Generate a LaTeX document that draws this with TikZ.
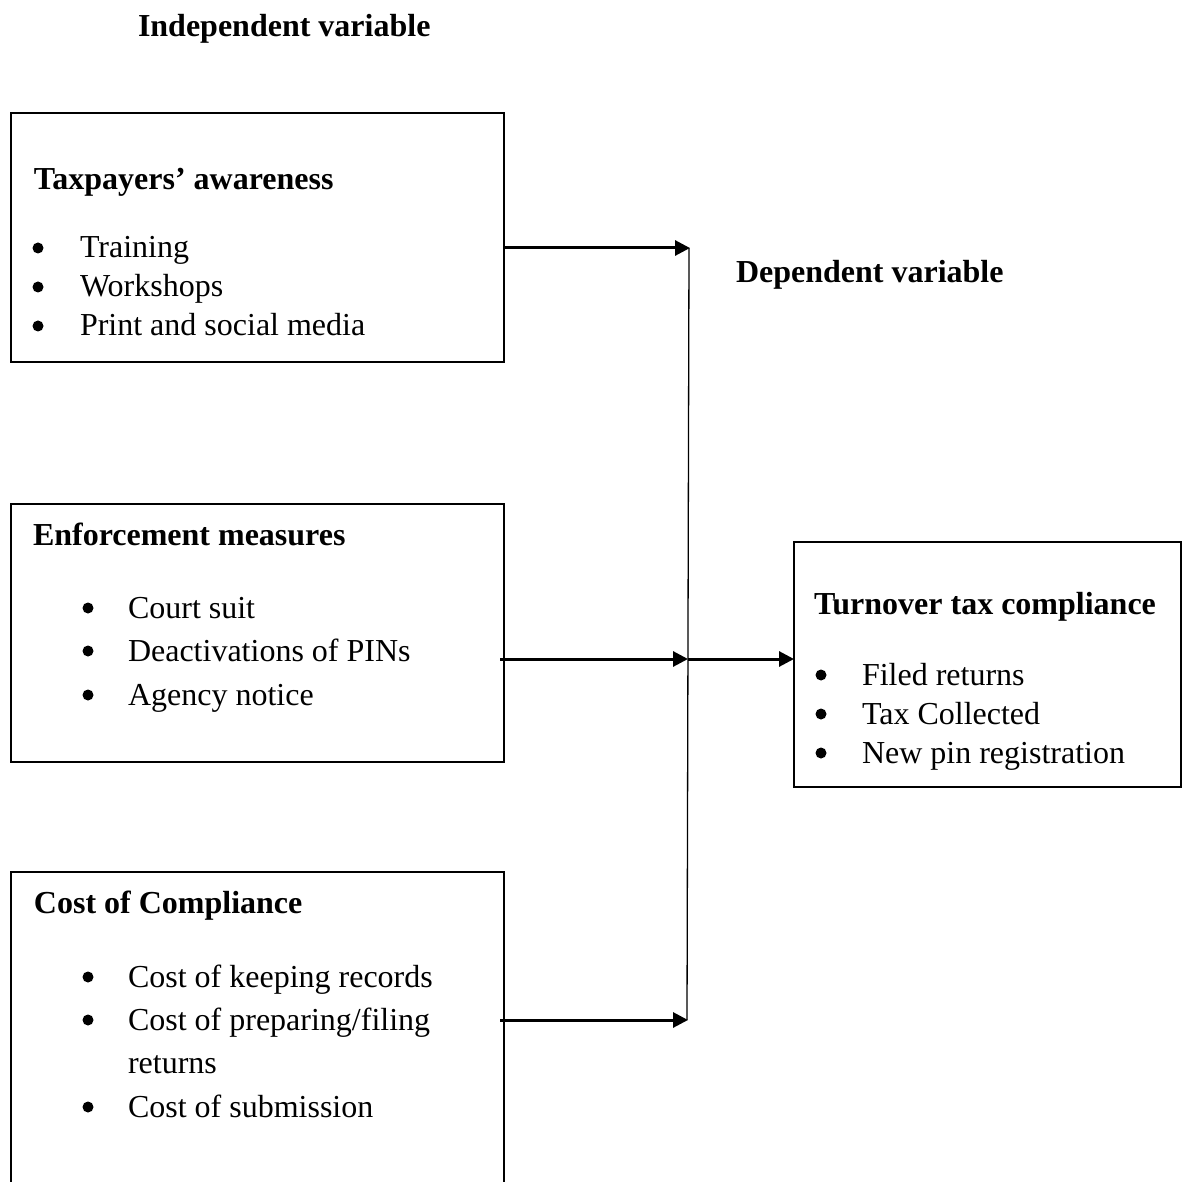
\documentclass[tikz,border=0pt]{standalone}
\usepackage{fontspec}
\setmainfont{Liberation Serif}
\usetikzlibrary{arrows.meta, positioning, calc}

\begin{document}
\begin{tikzpicture}[x=1pt, y=-1pt,
  every node/.style={font=\fontsize{32}{39}\selectfont, inner sep=0pt, outer sep=0pt},
  box/.style={draw, line width=1.3pt, anchor=north west},
  head/.style={anchor=base west, font=\fontsize{32}{39}\selectfont\bfseries},
  item/.style={anchor=base west},
  dot/.style={circle, fill, minimum size=11pt},
  link/.style={-{Triangle[length=15pt, width=15pt]}, line width=3pt}]
  \useasboundingbox (0,0) rectangle (1189,1182);

  % Titles
  \node[head] (indep) at (138, 37) {Independent variable};
  \node[head] (dep) at (736, 283) {Dependent variable};

  % Taxpayers' awareness
  \node[box, minimum width=493pt, minimum height=249pt] (aware) at (11, 113) {};
  \node[head] (aware-h) at (34, 190) {Taxpayers’ awareness};
  \foreach \y/\t in {258/Training, 297/Workshops, 336/Print and social media} {
    \node[dot] (aware-b\y) at (38, \y-10) {};
    \node[item] (aware-t\y) at (80, \y) {\t};
  }

  % Enforcement measures
  \node[box, minimum width=493pt, minimum height=258pt] (enforce) at (11, 504) {};
  \node[head] (enforce-h) at (33, 545) {Enforcement measures};
  \foreach \y/\t in {618/Court suit, 661/Deactivations of PINs, 705/Agency notice} {
    \node[dot] (enforce-b\y) at (88, \y-10) {};
    \node[item] (enforce-t\y) at (128, \y) {\t};
  }

  % Cost of Compliance (box runs off the page)
  \node[minimum width=493pt, minimum height=330pt, anchor=north west] (cost) at (11, 872) {};
  \draw[line width=1.3pt] (cost.south west) -- (cost.north west) -- (cost.north east) -- (cost.south east);
  \node[head] (cost-h) at (34, 913) {Cost of Compliance};
  \foreach \y/\t in {987/Cost of keeping records, 1117/Cost of submission} {
    \node[dot] (cost-b\y) at (88, \y-10) {};
    \node[item] (cost-t\y) at (128, \y) {\t};
  }
  \node[dot] (cost-b1030) at (88, 1020) {};
  \node[item] (cost-t1030) at (128, 1030) {Cost of preparing/filing};
  \node[item] (cost-t1073) at (128, 1073) {returns};

  % Turnover tax compliance
  \node[box, minimum width=387pt, minimum height=245pt] (turnover) at (794, 542) {};
  \node[head] (turnover-h) at (814, 614) {Turnover tax compliance};
  \foreach \y/\t in {685/Filed returns, 724/Tax Collected, 763/New pin registration} {
    \node[dot] (turnover-b\y) at (821, \y-10) {};
    \node[item] (turnover-t\y) at (862, \y) {\t};
  }

  % Connectors
  \coordinate (bustop) at (690, 248);
  \coordinate (busmid) at (688, 659);
  \coordinate (busbot) at (688, 1020);
  \draw[line width=1.3pt] (689, 248) -- (687, 1020);
  \draw[link] (aware.east |- bustop) -- (bustop);
  \draw[link] ($(enforce.east |- busmid)+(-4,0)$) -- (busmid);
  \draw[link] ($(cost.east |- busbot)+(-4,0)$) -- (busbot);
  \draw[link] (busmid) -- (turnover.west |- busmid);
\end{tikzpicture}
\end{document}
